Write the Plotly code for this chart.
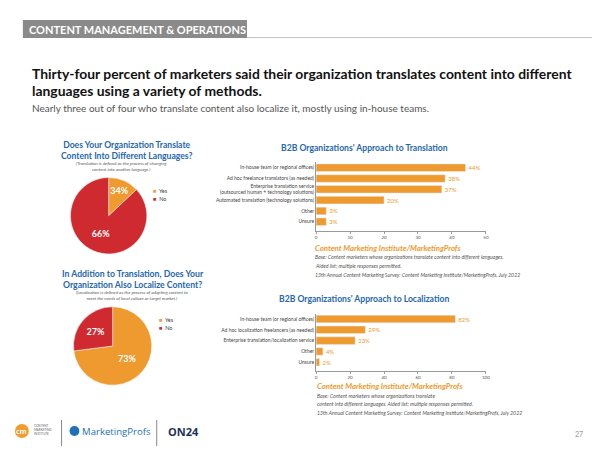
import plotly.graph_objects as go

# the page body has an 8px margin, so the figure is drawn 8px in from the corner
OFF = 8
W, H = 600 - OFF, 450 - OFF

ORANGE = "#EE9A2E"
RED = "#CF2A30"
BLUE = "#2567AE"
GRAY_TXT = "#555555"

# pie 1: slice shares as drawn in the picture, labels as printed
pie1_labels = ["Yes", "No"]
pie1_values = [13, 87]
pie1_text = ["34%", "66%"]

pie2_labels = ["Yes", "No"]
pie2_values = [73, 27]
pie2_text = ["73%", "27%"]

trans_cats = [
    "In-house team (or regional offices)",
    "Ad hoc freelance translators (as needed)",
    "Enterprise translation service<br>(outsourced human + technology solutions)",
    "Automated translation (technology solutions)",
    "Other",
    "Unsure",
]
trans_vals = [44, 38, 37, 20, 3, 3]
trans_ticks = [0, 10, 20, 30, 40, 50]

loc_cats = [
    "In-house team (or regional offices)",
    "Ad hoc localization freelancers (as needed)",
    "Enterprise translation/localization service",
    "Other",
    "Unsure",
]
loc_vals = [82, 29, 23, 4, 2]
loc_ticks = [0, 20, 40, 60, 80, 100]


def px(x):
    return (x - OFF) / W


def py(y):
    return 1 - (y - OFF) / H


annotations = []
shapes = []


def note(text, x, y, size, color, xanchor="left", family="Lato", **font_kw):
    annotations.append(
        dict(
            text=text, x=px(x), y=py(y), xref="paper", yref="paper",
            xanchor=xanchor, yanchor="middle", showarrow=False, align=xanchor,
            font=dict(size=size, color=color, family=family, **font_kw),
        )
    )


fig = go.Figure()

fig.add_trace(
    go.Pie(
        labels=pie1_labels, values=pie1_values, text=pie1_text, textinfo="text",
        sort=False, direction="clockwise", rotation=0,
        marker=dict(colors=[ORANGE, RED], line=dict(color="white", width=0.5)),
        textfont=dict(color="white", size=9, family="Lato", weight="bold"),
        insidetextorientation="horizontal", textposition="inside",
        domain=dict(x=[px(70), px(147)], y=[py(254.5), py(177)]),
        showlegend=False, hoverinfo="label+text",
    )
)
fig.add_trace(
    go.Pie(
        labels=pie2_labels, values=pie2_values, text=pie2_text, textinfo="text",
        sort=False, direction="clockwise", rotation=0,
        marker=dict(colors=[ORANGE, RED], line=dict(color="white", width=0.5)),
        textfont=dict(color="white", size=9, family="Lato", weight="bold"),
        insidetextorientation="horizontal", textposition="inside",
        domain=dict(x=[px(73), px(152)], y=[py(385.5), py(306.5)]),
        showlegend=False, hoverinfo="label+text",
    )
)

fig.add_trace(
    go.Bar(
        x=trans_vals, y=trans_cats, orientation="h", marker_color=ORANGE,
        texttemplate="%{x}%", textposition="outside", cliponaxis=False,
        textfont=dict(color=ORANGE, size=6, family="Lato"),
        xaxis="x2", yaxis="y2", showlegend=False, width=0.7,
    )
)
fig.add_trace(
    go.Bar(
        x=loc_vals, y=loc_cats, orientation="h", marker_color=ORANGE,
        texttemplate="%{x}%", textposition="outside", cliponaxis=False,
        textfont=dict(color=ORANGE, size=6, family="Lato"),
        xaxis="x3", yaxis="y3", showlegend=False, width=0.7,
    )
)

axis_x = dict(
    showline=True, linecolor="#9a9a9a", linewidth=0.8, ticks="outside", ticklen=2,
    tickcolor="#9a9a9a", tickfont=dict(size=4.5, color=GRAY_TXT, family="Lato"),
    showgrid=False, zeroline=False,
)
axis_y = dict(
    type="category", showline=True, linecolor="#9a9a9a", linewidth=0.8, ticks="",
    tickfont=dict(size=5, color="#444444", family="Lato"), showgrid=False, zeroline=False,
)

# header bar
shapes.append(dict(type="rect", xref="paper", yref="paper", x0=px(22), x1=px(248), y0=py(38), y1=py(20),
                   fillcolor="#8a8a8a", line_width=0))
shapes.append(dict(type="line", xref="paper", yref="paper", x0=px(248), x1=px(600), y0=py(37.5), y1=py(37.5),
                   line=dict(color="#c4c4c4", width=1)))
note("CONTENT MANAGEMENT & OPERATIONS", 26, 29.5, 11, "white", weight="bold")

note("Thirty-four percent of marketers said their organization translates content into different", 29, 73, 13.9,
     "#111111", weight="bold")
note("languages using a variety of methods.", 29, 90, 13.9, "#111111", weight="bold")
note("Nearly three out of four who translate content also localize it, mostly using in-house teams.", 29, 108,
     10, GRAY_TXT)

# pie titles
note("Does Your Organization Translate<br>Content Into Different Languages?", 127, 150, 8.6, BLUE, "center",
     weight="bold")
note("<i>(Translation is defined as the process of changing<br>content into another language.)</i>", 121, 166.5,
     4.5, GRAY_TXT, "center")
note("In Addition to Translation, Does Your<br>Organization Also Localize Content?", 133, 278.5, 8.7, BLUE,
     "center", weight="bold")
note("<i>(Localization is defined as the process of adapting content to<br>meet the needs of local culture or target market.)</i>",
     133, 295.5, 4.5, GRAY_TXT, "center")

# pie legends
for (lx, ly), labels in (((151, 191), pie1_labels), ((157, 320), pie2_labels)):
    for i, lab in enumerate(labels):
        col = ORANGE if i == 0 else RED
        note(f"<span style='color:{col}'>■</span>  {lab}", lx, ly + 8 * i, 5.5, "#444444")

# bar titles
note("B2B Organizations' Approach to Translation", 367, 148, 8.6, BLUE, "center", weight="bold")
note("B2B Organizations' Approach to Localization", 366, 299, 8.6, BLUE, "center", weight="bold")

# source notes
note("<i>Content Marketing Institute/MarketingProfs</i>", 315, 248, 7.8, ORANGE, weight="bold")
note("<i>Base: Content marketers whose organizations translate content into different languages.</i>", 315, 257,
     5.2, GRAY_TXT)
note("<i>Aided list; multiple responses permitted.</i>", 315, 266, 5.2, GRAY_TXT)
note("<i>13th Annual Content Marketing Survey: Content Marketing Institute/MarketingProfs, July 2022</i>", 315, 275,
     5.2, GRAY_TXT)
note("<i>Content Marketing Institute/MarketingProfs</i>", 317, 386, 7.8, ORANGE, weight="bold")
note("<i>Base: Content marketers whose organizations translate</i>", 317, 395.5, 5.2, GRAY_TXT)
note("<i>content into different languages. Aided list; multiple responses permitted.</i>", 317, 404, 5.2, GRAY_TXT)
note("<i>13th Annual Content Marketing Survey: Content Marketing Institute/MarketingProfs, July 2022</i>", 317, 412.5,
     5.2, GRAY_TXT)

# footer logos
shapes.append(dict(type="circle", xref="paper", yref="paper", x0=px(14), x1=px(28), y0=py(438), y1=py(424),
                   fillcolor="#F29B2E", line_width=0))
note("cm", 21, 430.5, 8, "white", "center", weight="bold")
note("CONTENT<br>MARKETING<br>INSTITUTE", 31, 430, 3, "#666666")
shapes.append(dict(type="line", xref="paper", yref="paper", x0=px(61), x1=px(61), y0=py(446), y1=py(420),
                   line=dict(color="#888888", width=1)))
shapes.append(dict(type="circle", xref="paper", yref="paper", x0=px(69), x1=px(79), y0=py(436), y1=py(426),
                   fillcolor="#1E6FBA", line_width=0))
note("MarketingProfs", 80, 431, 9.6, "#1E6FBA", family="Open Sans")
shapes.append(dict(type="line", xref="paper", yref="paper", x0=px(157), x1=px(157), y0=py(446), y1=py(420),
                   line=dict(color="#888888", width=1)))
note("ON24", 166, 431, 11, "#1D2F5E", weight="bold", family="Open Sans")
note("27", 583, 434, 7, "#9a9a9a", "center")

fig.update_layout(
    width=W, height=H, margin=dict(l=0, r=0, t=0, b=0),
    paper_bgcolor="white", plot_bgcolor="white", showlegend=False,
    xaxis2=dict(axis_x, domain=[px(317.7), px(489)], anchor="y2", range=[0, 50], tickvals=trans_ticks),
    yaxis2=dict(axis_y, domain=[py(231), py(162.3)], anchor="x2", range=[5.86, -0.5]),
    xaxis3=dict(axis_x, domain=[px(317.7), px(489)], anchor="y3", range=[0, 100], tickvals=loc_ticks),
    yaxis3=dict(axis_y, domain=[py(371), py(313.6)], anchor="x3", range=[4.81, -0.5]),
    annotations=annotations, shapes=shapes,
)

fig.write_html("out.html")
